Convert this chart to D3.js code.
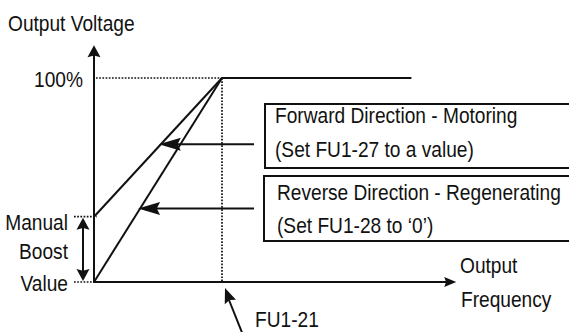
<!DOCTYPE html>
<html>
<head>
<meta charset="utf-8">
<script src="https://cdn.jsdelivr.net/npm/d3@7"></script>
<style>
    body { margin: 0; background: #fff; }
    svg { display: block; }
    text { font-family: "Liberation Sans", Arial, sans-serif; font-size: 22px; fill: #111; }
</style>
</head>
<body>
<div id="chart"></div>
<script>
// values in % of base frequency / % of output voltage
const vfFreq = [0, 100];
const forwardVolt = [32, 100];
const reverseVolt = [0, 100];
const flatFreq = [100, 248];
const flatVolt = [100, 100];
const axisEnd = [283, 116];          // freq, volt
const boostValue = 32;
const arrowVolt = [67.5, 36];
const arrowTailFreq = 125;

const yTickLabels = ["100%"];
const boostLabels = ["Manual", "Boost", "Value"];
const boxTexts = [
    ["Forward Direction - Motoring", "(Set FU1-27 to a value)"],
    ["Reverse Direction - Regenerating", "(Set FU1-28 to \u20180\u2019)"]
];
const xTitle = ["Output", "Frequency"];
const yTitle = "Output Voltage";
const markerLabel = "FU1-21";

let width = 569;
let height = 332;
let sx = 0.87; // narrow font look

let svg = d3.select("#chart")
    .append("svg")
    .attr("width", width)
    .attr("height", height);

let x = d3.scaleLinear().domain([0, 100]).range([94, 222]);
let y = d3.scaleLinear().domain([0, 100]).range([282, 78]);

function label(px, py, str, anchor) {
    svg.append("text")
        .attr("transform", `translate(${px},${py}) scale(${sx},1)`)
        .attr("text-anchor", anchor || "start")
        .text(str);
}

function arrowHead(tipX, tipY, angle, len, half) {
    // angle = direction the arrow points to
    let c = Math.cos(angle), s = Math.sin(angle);
    let bx = tipX - c * len, by = tipY - s * len;
    let pts = [
        [tipX, tipY],
        [bx - s * half, by + c * half],
        [bx + c * len * 0.15, by + s * len * 0.15],
        [bx + s * half, by - c * half]
    ];
    svg.append("path")
        .attr("d", d3.line()(pts) + "Z")
        .attr("fill", "#111");
}

function segment(x1, y1, x2, y2, dotted) {
    let l = svg.append("line")
        .attr("x1", x1).attr("y1", y1)
        .attr("x2", x2).attr("y2", y2)
        .attr("stroke", "#111");
    if (dotted) {
        l.attr("stroke-width", 1.7).attr("stroke-dasharray", "1.7,1.5");
    } else {
        l.attr("stroke-width", 2);
    }
    return l;
}

// dotted guides
segment(x(0) + 2, y(100), x(100), y(100), true);
segment(x(100), y(100), x(100), y(0), true);
segment(74, y(boostValue), x(0) + 3, y(boostValue), true);
segment(74, y(0), x(0) + 3, y(0), true);

// axes
segment(x(0), y(0), x(axisEnd[0]) - 4, y(0));
arrowHead(x(axisEnd[0]), y(0), 0, 12, 5);
segment(x(0), y(0) + 1, x(0), y(axisEnd[1]) + 6);
arrowHead(x(0), y(axisEnd[1]), -Math.PI / 2, 12, 6.5);

// V/F lines
let line = d3.line()
    .x(function(d) { return x(d[0]); })
    .y(function(d) { return y(d[1]); });

[forwardVolt, reverseVolt].forEach(function(v) {
    svg.append("path")
        .datum(vfFreq.map(function(f, i) { return [f, v[i]]; }))
        .attr("d", line)
        .attr("fill", "none")
        .attr("stroke", "#111")
        .attr("stroke-width", 2);
});
svg.append("path")
    .datum(flatFreq.map(function(f, i) { return [f, flatVolt[i]]; }))
    .attr("d", line)
    .attr("fill", "none")
    .attr("stroke", "#111")
    .attr("stroke-width", 2);

// arrows pointing to the two lines
let lines = [forwardVolt, reverseVolt];
arrowVolt.forEach(function(v, i) {
    let inv = d3.scaleLinear().domain(lines[i]).range(vfFreq);
    let tipX = x(inv(v)) - 2;
    let ty = y(v);
    segment(tipX + 15, ty, x(arrowTailFreq), ty);
    arrowHead(tipX, ty, Math.PI, 22, 6.5);
});

// boxes
let boxes = [
    { x: 265, y: 104, h: 64, tx: 275, ty: [123, 157] },
    { x: 264, y: 176, h: 65, tx: 277, ty: [200, 233] }
];
boxes.forEach(function(b, i) {
    svg.append("rect")
        .attr("x", b.x).attr("y", b.y)
        .attr("width", width + 10 - b.x).attr("height", b.h)
        .attr("fill", "none")
        .attr("stroke", "#111")
        .attr("stroke-width", 2);
    label(b.tx, b.ty[0], boxTexts[i][0]);
    label(b.tx, b.ty[1], boxTexts[i][1]);
});

// boost double arrow
segment(83, y(boostValue) + 10, 83, y(0) - 10);
arrowHead(83, y(boostValue) + 1, -Math.PI / 2, 12, 6.5);
arrowHead(83, y(0) - 1, Math.PI / 2, 12, 6.5);

// FU1-21 pointer
let ang = Math.atan2(288 - 335, 225 - 243);
segment(243, 335, 229, 300);
arrowHead(x(100) + 3, y(0) + 6, ang, 15, 6);

// texts
label(8, 31, yTitle);
label(83, 87, yTickLabels[0], "end");
label(68, 230, boostLabels[0], "end");
label(68, 259, boostLabels[1], "end");
label(68, 291, boostLabels[2], "end");
label(460, 273, xTitle[0]);
label(461, 307, xTitle[1]);
label(255, 327, markerLabel);
</script>
</body>
</html>
